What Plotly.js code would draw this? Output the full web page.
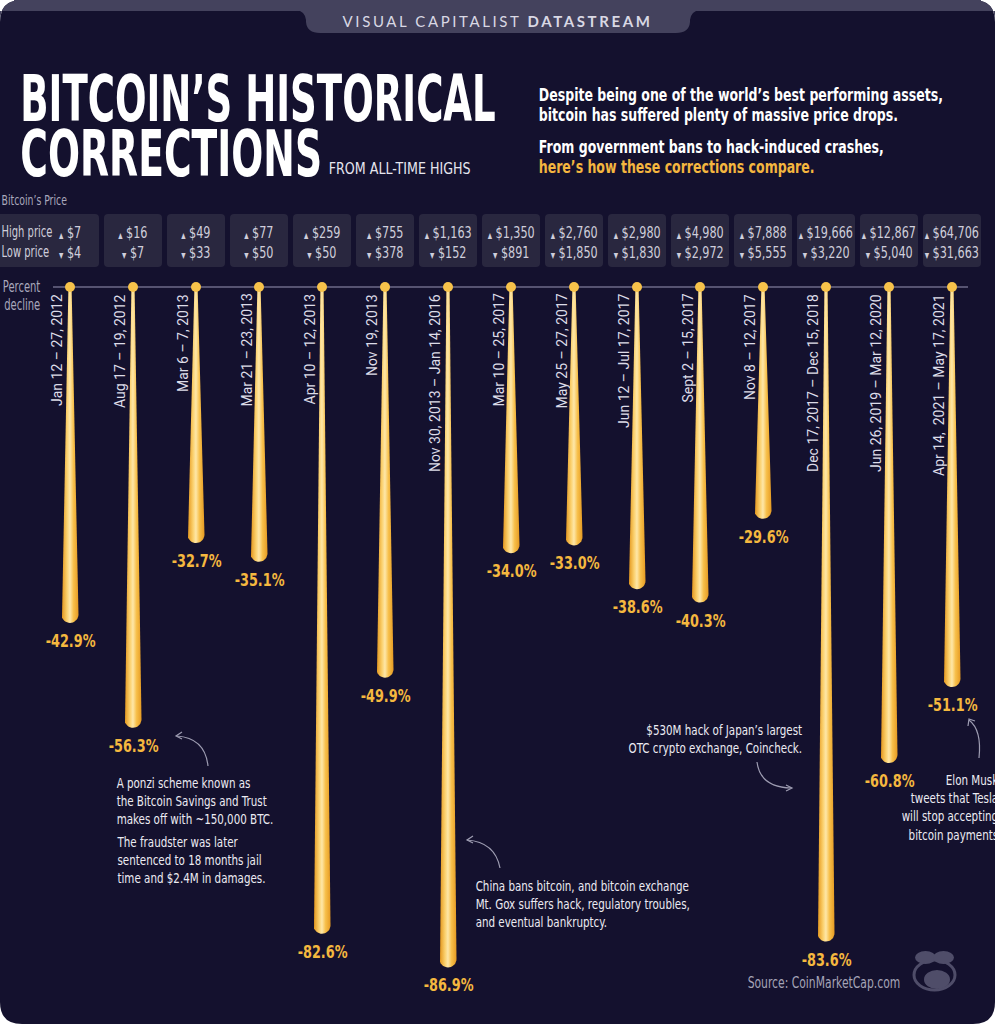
<!DOCTYPE html>
<html>
<head>
<meta charset="utf-8">
<script src="https://cdn.plot.ly/plotly-3.0.1.min.js"></script>
<style>html,body{margin:0;padding:0;background:#ffffff;}#chart{width:995px;height:1024px;}</style>
</head>
<body>
<div id="chart"></div>
<script>
// ---------------- DATA ----------------
const periods = [
  "Jan 12 – 27, 2012", "Aug 17 – 19, 2012", "Mar 6 – 7, 2013", "Mar 21 – 23, 2013",
  "Apr 10 – 12, 2013", "Nov 19, 2013", "Nov 30, 2013 – Jan 14, 2016", "Mar 10 – 25, 2017",
  "May 25 – 27, 2017", "Jun 12 – Jul 17, 2017", "Sept 2 – 15, 2017", "Nov 8 – 12, 2017",
  "Dec 17, 2017 – Dec 15, 2018", "Jun 26, 2019 – Mar 12, 2020", "Apr 14,  2021 – May 17, 2021"
];
const declines = [-42.9, -56.3, -32.7, -35.1, -82.6, -49.9, -86.9, -34.0, -33.0, -38.6, -40.3, -29.6, -83.6, -60.8, -51.1];
const highPrices = ["$7", "$16", "$49", "$77", "$259", "$755", "$1,163", "$1,350", "$2,760", "$2,980", "$4,980", "$7,888", "$19,666", "$12,867", "$64,706"];
const lowPrices = ["$4", "$7", "$33", "$50", "$50", "$378", "$152", "$891", "$1,850", "$1,830", "$2,972", "$5,555", "$3,220", "$5,040", "$31,663"];

const titleLines = ["BITCOIN’S HISTORICAL", "CORRECTIONS"];
const subtitle = "FROM ALL-TIME HIGHS";
const introLines = ["Despite being one of the world’s best performing assets,", "bitcoin has suffered plenty of massive price drops."];
const introLines2 = ["From government bans to hack-induced crashes,", "here’s how these corrections compare."];
const notes = {
  ponzi1: "A ponzi scheme known as<br>the Bitcoin Savings and Trust<br>makes off with ~150,000 BTC.",
  ponzi2: "The fraudster was later<br>sentenced to 18 months jail<br>time and $2.4M in damages.",
  china: "China bans bitcoin, and bitcoin exchange<br>Mt. Gox suffers hack, regulatory troubles,<br>and eventual bankruptcy.",
  coincheck: "$530M hack of Japan’s largest<br>OTC crypto exchange, Coincheck.",
  elon: "Elon Musk<br>tweets that Tesla<br>will stop accepting<br>bitcoin payments"
};
const sourceText = "Source: CoinMarketCap.com";

// ---------------- GEOMETRY ----------------
const W = 995, H = 1024;
const X0 = 70, STEP = 63, BASE = 287, K = 7.83; // px of first bar, px between bars, baseline px, px per percent
const X = px => (px - X0) / STEP;
const Y = py => (BASE - py) / K;
const P = (px, py) => X(px) + "," + Y(py);

const NARROW = "DejaVu Sans Condensed, DejaVu Sans, sans-serif";
const DATEF = "Roboto, Liberation Sans, sans-serif";

function roundRect(x0, y0, x1, y1, r) {
  return "M" + P(x0 + r, y0) + " L" + P(x1 - r, y0) + " Q" + P(x1, y0) + " " + P(x1, y0 + r) +
    " L" + P(x1, y1 - r) + " Q" + P(x1, y1) + " " + P(x1 - r, y1) +
    " L" + P(x0 + r, y1) + " Q" + P(x0, y1) + " " + P(x0, y1 - r) +
    " L" + P(x0, y0 + r) + " Q" + P(x0, y0) + " " + P(x0 + r, y0) + " Z";
}

const shapes = [];
shapes.push({type: "path", xref: "x", yref: "y", layer: "below", path: roundRect(0, 0, 995, 1024, 22), fillcolor: "#14112e", line: {width: 0}});
shapes.push({type: "path", xref: "x", yref: "y", layer: "below",
  path: "M" + P(0, 22) + " Q" + P(0, 0) + " " + P(22, 0) + " L" + P(973, 0) + " Q" + P(995, 0) + " " + P(995, 22) + " L" + P(995, 11) + " L" + P(0, 11) + " Z",
  fillcolor: "#44425d", line: {width: 0}});
shapes.push({type: "path", xref: "x", yref: "y", layer: "below", path: "M" + P(14, 11) + " L" + P(981, 11) + " L" + P(981, 0) + " L" + P(14, 0) + " Z", fillcolor: "#44425d", line: {width: 0}});
shapes.push({type: "path", xref: "x", yref: "y", layer: "below",
  path: "M" + P(296, 10) + " Q" + P(305, 11) + " " + P(306, 20) + " L" + P(306, 22) + " Q" + P(307, 33) + " " + P(320, 33) +
    " L" + P(676, 33) + " Q" + P(689, 33) + " " + P(690, 22) + " L" + P(690, 20) + " Q" + P(691, 11) + " " + P(700, 10) + " Z",
  fillcolor: "#44425d", line: {width: 0}});
for (let i = 0; i < declines.length; i++) {
  const cx = X0 + STEP * i;
  const x0 = i === 0 ? -6 : cx - 29;
  shapes.push({type: "path", xref: "x", yref: "y", layer: "below", path: roundRect(x0, 214, cx + 29, 267, 4), fillcolor: "#29273f", line: {width: 0}});
}
shapes.push({type: "line", xref: "x", yref: "y", layer: "below", x0: X(53), x1: X(968), y0: 0, y1: 0, line: {color: "#6d6a88", width: 1.5}});

const arrowStyle = {color: "#9e9db2", width: 1.2};
function arrow(path) { shapes.push({type: "path", xref: "x", yref: "y", path: path, line: arrowStyle}); }
arrow("M" + P(177, 736) + " Q" + P(205, 738) + " " + P(208, 766));
arrow("M" + P(182, 732) + " L" + P(176, 736) + " L" + P(182, 739));
arrow("M" + P(467, 840) + " Q" + P(495, 842) + " " + P(500, 868));
arrow("M" + P(473, 836) + " L" + P(467, 840) + " L" + P(473, 843));
arrow("M" + P(757, 762) + " Q" + P(760, 787) + " " + P(791, 788));
arrow("M" + P(786, 785) + " L" + P(792, 788) + " L" + P(786, 791));
arrow("M" + P(969, 720) + " Q" + P(982, 730) + " " + P(979, 758));
arrow("M" + P(968, 726) + " L" + P(969, 719) + " L" + P(975, 721));

// logo (approximate)
const LOGO = "#4f4d69";
shapes.push({type: "circle", xref: "x", yref: "y", x0: X(914), x1: X(955), y0: Y(960), y1: Y(990), line: {color: LOGO, width: 3}});
shapes.push({type: "circle", xref: "x", yref: "y", x0: X(915), x1: X(936), y0: Y(951), y1: Y(964), fillcolor: LOGO, line: {width: 0}});
shapes.push({type: "circle", xref: "x", yref: "y", x0: X(933), x1: X(954), y0: Y(951), y1: Y(964), fillcolor: LOGO, line: {width: 0}});
shapes.push({type: "circle", xref: "x", yref: "y", x0: X(924), x1: X(950), y0: Y(970), y1: Y(989), fillcolor: LOGO, line: {width: 0}});

// ---------------- TRACES ----------------
const traces = [];
const grad = {type: "horizontal", colorscale: [[0, "#e4981f"], [0.3, "#fbd06c"], [0.48, "#fee7a8"], [0.7, "#f7bf4a"], [1, "#e59a22"]]};
declines.forEach((v, i) => {
  const wt = 1.6, wb = 8.5;
  const vc = v + wb / K;
  const xs = [i - wt / STEP, i - wb / STEP];
  const ys = [0, vc];
  for (let a = 180; a <= 360; a += 10) {
    const r = a * Math.PI / 180;
    xs.push(i + wb * Math.cos(r) / STEP);
    ys.push(vc + wb * Math.sin(r) / K);
  }
  xs.push(i + wt / STEP); ys.push(0);
  traces.push({type: "scatter", x: xs, y: ys, mode: "lines", fill: "toself", fillgradient: grad, fillcolor: "#f5b93e", line: {width: 0}, hoverinfo: "skip", showlegend: false});
});
traces.push({type: "scatter", mode: "markers", x: declines.map((v, i) => i), y: declines.map(() => 0), marker: {size: 10, color: "#f7c24a"}, hoverinfo: "skip", showlegend: false});

// ---------------- ANNOTATIONS ----------------
const ann = [];
const cond = {}; // annotation index -> horizontal condense factor
function add(a, s, spacing) {
  const idx = ann.length;
  ann.push(Object.assign({xref: "x", yref: "y", showarrow: false}, a));
  if (s || spacing) cond[idx] = {s: s || 1, ax: X0 + STEP * a.x + (a.xshift || 0), sp: spacing};
}
const at = (px, py, text, opts) => Object.assign({x: X(px), y: Y(py), text: text}, opts);

add(at(497, 21, "VISUAL CAPITALIST <b>DATASTREAM</b>", {font: {family: "Lato, Open Sans, sans-serif", size: 15, color: "#d9d8e4"}}), 1, 2.6);
add(at(19, 99, titleLines[0], {xanchor: "left", yanchor: "middle", font: {family: NARROW, size: 64, weight: 700, color: "#ffffff"}}), 0.645);
add(at(19, 154, titleLines[1], {xanchor: "left", yanchor: "middle", font: {family: NARROW, size: 64, weight: 700, color: "#ffffff"}}), 0.655);
add(at(327, 168, subtitle, {xanchor: "left", yanchor: "middle", font: {family: NARROW, size: 16, color: "#e6e5ee"}}), 0.88);
const introFont = {family: NARROW, size: 17, weight: 700, color: "#ffffff"};
add(at(537, 95, introLines[0], {xanchor: "left", yanchor: "middle", font: introFont}), 0.82);
add(at(537, 115, introLines[1], {xanchor: "left", yanchor: "middle", font: introFont}), 0.82);
add(at(537, 147, introLines2[0], {xanchor: "left", yanchor: "middle", font: introFont}), 0.82);
add(at(537, 167, introLines2[1], {xanchor: "left", yanchor: "middle", font: Object.assign({}, introFont, {color: "#f4b63f"})}), 0.82);

const labFont = {family: NARROW, size: 15, color: "#cfcedb"};
add(at(0, 200, "Bitcoin’s Price", {xanchor: "left", yanchor: "middle", font: {family: NARROW, size: 14, color: "#a9a8bc"}}), 0.74);
add(at(0, 232, "High price", {xanchor: "left", yanchor: "middle", font: labFont}), 0.74);
add(at(0, 252, "Low price", {xanchor: "left", yanchor: "middle", font: labFont}), 0.74);
add(at(42, 287, "Percent", {xanchor: "right", yanchor: "middle", font: {family: NARROW, size: 15, color: "#a9a8bc"}}), 0.74);
add(at(42, 305, "decline", {xanchor: "right", yanchor: "middle", font: {family: NARROW, size: 15, color: "#a9a8bc"}}), 0.74);

const tri = (s) => '<span style="font-size:8px">' + s + '</span> ';
const priceFont = {family: NARROW, size: 16, color: "#cfcedb"};
declines.forEach((v, i) => {
  add({x: i, y: Y(232), text: tri("▲") + highPrices[i], font: priceFont}, 0.78);
  add({x: i, y: Y(252), text: tri("▼") + lowPrices[i], font: priceFont}, 0.78);
  add({x: i, y: 0, xshift: -13, yshift: -5, yanchor: "top", xanchor: "center", textangle: -90, text: periods[i], font: {family: DATEF, size: 14, color: "#dddce8"}});
  add({x: i, y: v, yshift: -6, yanchor: "top", text: v.toFixed(1) + "%", font: {family: NARROW, size: 17, weight: 700, color: "#f5b83f"}}, 0.84);
});

const noteFont = {family: NARROW, size: 14, color: "#ecebf2"};
add(at(115, 773, notes.ponzi1, {xanchor: "left", yanchor: "top", align: "left", font: noteFont}), 0.82);
add(at(115, 832, notes.ponzi2, {xanchor: "left", yanchor: "top", align: "left", font: noteFont}), 0.82);
add(at(474, 876, notes.china, {xanchor: "left", yanchor: "top", align: "left", font: noteFont}), 0.82);
add(at(804, 720, notes.coincheck, {xanchor: "right", yanchor: "top", align: "right", font: noteFont}), 0.82);
add(at(985, 770, notes.elon, {xshift: 15, xanchor: "right", yanchor: "top", align: "right", font: noteFont}), 0.82);
add(at(746, 983, sourceText, {xanchor: "left", yanchor: "middle", font: {family: NARROW, size: 15, color: "#a5a4b7"}}), 0.8);

const layout = {
  width: W, height: H,
  margin: {l: 0, r: 0, t: 0, b: 0},
  paper_bgcolor: "#ffffff", plot_bgcolor: "rgba(0,0,0,0)",
  xaxis: {range: [X(0), X(W)], visible: false, fixedrange: true},
  yaxis: {range: [Y(H), Y(0)], visible: false, fixedrange: true},
  shapes: shapes, annotations: ann, showlegend: false
};
Plotly.newPlot("chart", traces, layout, {displayModeBar: false, staticPlot: true}).then(gd => {
  gd.querySelectorAll("g.annotation").forEach(g => {
    const c = cond[+g.getAttribute("data-index")];
    if (!c) return;
    if (c.sp) g.querySelectorAll("text").forEach(t => { t.style.letterSpacing = c.sp + "px"; });
    if (c.s !== 1) g.setAttribute("transform", "translate(" + c.ax + ",0) scale(" + c.s + ",1) translate(" + (-c.ax) + ",0)");
  });
});
</script>
</body>
</html>
